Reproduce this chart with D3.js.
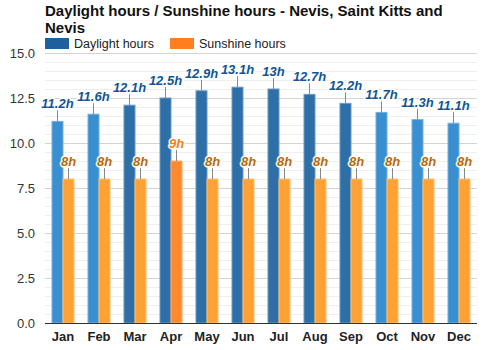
<!DOCTYPE html>
<html>
<head>
<meta charset="utf-8">
<script src="https://cdn.jsdelivr.net/npm/d3@7"></script>
<style>
  body { margin: 0; background: #fff; font-family: "Liberation Sans", Arial, sans-serif; }
  .lbl { font-weight: bold; font-style: italic; font-size: 13px; paint-order: stroke; stroke: #fff; stroke-width: 3px; stroke-linejoin: round; }
</style>
</head>
<body>
<div id="chart"></div>
<script>
// data
const months = ["Jan","Feb","Mar","Apr","May","Jun","Jul","Aug","Sep","Oct","Nov","Dec"];
const daylight = [11.2, 11.6, 12.1, 12.5, 12.9, 13.1, 13, 12.7, 12.2, 11.7, 11.3, 11.1];
const sunshine = [8, 8, 8, 9, 8, 8, 8, 8, 8, 8, 8, 8];
const daylightLabels = ["11.2h","11.6h","12.1h","12.5h","12.9h","13.1h","13h","12.7h","12.2h","11.7h","11.3h","11.1h"];
const sunshineLabels = ["8h","8h","8h","9h","8h","8h","8h","8h","8h","8h","8h","8h"];
const yTicks = [0, 2.5, 5, 7.5, 10, 12.5, 15];

const W = 500, H = 350;
const margin = { TOP: 53, BOTTOM: 27, LEFT: 45, RIGHT: 23 };

const svg = d3.select("#chart").append("svg")
  .attr("width", W).attr("height", H);

const x = d3.scaleBand().domain(months).range([margin.LEFT, W - margin.RIGHT]);
const y = d3.scaleLinear().domain([0, 15]).range([H - margin.BOTTOM, margin.TOP]);
const barW = 11;

// title
svg.append("text").attr("x", 45).attr("y", 16)
  .attr("font-size", 15).attr("font-weight", "bold").attr("fill", "#111")
  .text("Daylight hours / Sunshine hours - Nevis, Saint Kitts and");
svg.append("text").attr("x", 45).attr("y", 33)
  .attr("font-size", 15).attr("font-weight", "bold").attr("fill", "#111")
  .text("Nevis");

// legend
const legend = [
  { name: "Daylight hours", color: "#1f5f9e", x: 45 },
  { name: "Sunshine hours", color: "#ff7f1e", x: 170 }
];
legend.forEach(l => {
  svg.append("rect").attr("x", l.x).attr("y", 38).attr("width", 24).attr("height", 11).attr("fill", l.color);
  svg.append("text").attr("x", l.x + 29).attr("y", 48).attr("font-size", 12.5).attr("fill", "#222").text(l.name);
});

// grid: minor every 0.5, major every 2.5
const minor = d3.range(0, 15.01, 0.5);
svg.append("g").selectAll("line").data(minor).enter().append("line")
  .attr("x1", margin.LEFT).attr("x2", W - margin.RIGHT)
  .attr("y1", d => Math.round(y(d)) + 0.5).attr("y2", d => Math.round(y(d)) + 0.5)
  .attr("stroke", d => (d % 2.5 === 0) ? "#d4d4d4" : "#efefef").attr("stroke-width", 1);

// y labels
svg.append("g").selectAll("text").data(yTicks).enter().append("text")
  .attr("x", 35).attr("y", d => y(d) + 5)
  .attr("text-anchor", "end").attr("font-size", 13).attr("fill", "#333")
  .text(d => d.toFixed(1));

// bars
const groups = svg.append("g").selectAll("g").data(months).enter().append("g")
  .attr("transform", d => `translate(${x(d) + x.bandwidth() / 2}, 0)`);

groups.append("rect")
  .attr("x", -barW).attr("width", barW)
  .attr("y", (d, i) => y(daylight[i])).attr("height", (d, i) => y(0) - y(daylight[i]))
  .attr("fill", (d, i) => daylight[i] >= 12 ? "#2f6fa7" : "#3a8fd0")
  .attr("stroke", (d, i) => daylight[i] >= 12 ? "#6a98c4" : "#72b0e0").attr("stroke-width", 1);

groups.append("rect")
  .attr("x", 0).attr("width", barW)
  .attr("y", (d, i) => y(sunshine[i])).attr("height", (d, i) => y(0) - y(sunshine[i]))
  .attr("fill", (d, i) => sunshine[i] >= 9 ? "#ff8a2e" : "#ffa233")
  .attr("stroke", (d, i) => sunshine[i] >= 9 ? "#ffaa66" : "#ffbf70").attr("stroke-width", 1);

// stems
groups.append("line")
  .attr("x1", -barW / 2).attr("x2", -barW / 2)
  .attr("y1", (d, i) => y(daylight[i])).attr("y2", (d, i) => y(daylight[i]) - 11)
  .attr("stroke", "#888");
groups.append("line")
  .attr("x1", barW / 2).attr("x2", barW / 2)
  .attr("y1", (d, i) => y(sunshine[i])).attr("y2", (d, i) => y(sunshine[i]) - 11)
  .attr("stroke", "#888");

// value labels
groups.append("text").attr("class", "lbl")
  .attr("x", -barW / 2).attr("y", (d, i) => y(daylight[i]) - 13)
  .attr("text-anchor", "middle").attr("fill", "#105594")
  .text((d, i) => daylightLabels[i]);
groups.append("text").attr("class", "lbl")
  .attr("x", barW / 2).attr("y", (d, i) => y(sunshine[i]) - 13)
  .attr("text-anchor", "middle")
  .attr("fill", (d, i) => sunshine[i] >= 9 ? "#ff7a14" : "#b8680a")
  .text((d, i) => sunshineLabels[i]);

// x axis
svg.append("line")
  .attr("x1", margin.LEFT).attr("x2", W - margin.RIGHT)
  .attr("y1", y(0) + 0.5).attr("y2", y(0) + 0.5)
  .attr("stroke", "#333");

svg.append("g").selectAll("text").data(months).enter().append("text")
  .attr("x", d => x(d) + x.bandwidth() / 2).attr("y", H - 9)
  .attr("text-anchor", "middle").attr("font-size", 13).attr("font-weight", "bold").attr("fill", "#222")
  .text(d => d);
</script>
</body>
</html>
